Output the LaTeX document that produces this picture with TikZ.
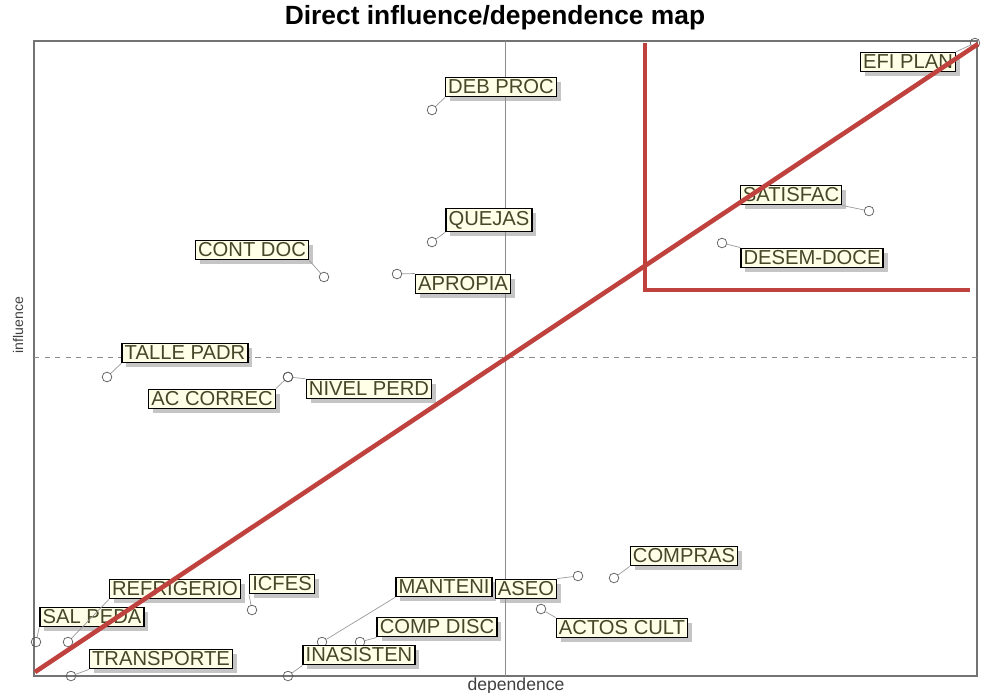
\documentclass[tikz,border=0pt]{standalone}
\usepackage{fontspec}
\setmainfont{Liberation Sans}
\usetikzlibrary{shadows}
\definecolor{mapred}{RGB}{192,66,62}
\definecolor{labfill}{RGB}{255,255,232}
\definecolor{labtext}{RGB}{70,70,40}

\begin{document}
\begin{tikzpicture}
  [x=0.02cm,y=-0.02cm,
   pt/.style={circle, draw=black!65, thin, inner sep=0pt, minimum size=5.5pt},
   lab/.style={rectangle, draw=black, thick, fill=labfill, text=labtext,
     font=\fontsize{11.5}{13}\selectfont, inner sep=1.5pt,
     drop shadow={shadow xshift=2.5pt, shadow yshift=-2.5pt, fill=black!45}},
   lead/.style={draw=black!40, thin},
   redline/.style={draw=mapred, line width=2.6pt}]
  \useasboundingbox (0,0) rectangle (984,693);

  % frame and axes
  \draw[black!55, line width=1.1pt] (34,41) rectangle (977,676);
  \draw[black!45, thin] (505,41) -- (505,676);
  \draw[black!45, thin, dashed] (34,357) -- (977,357);
  \node[font=\bfseries\fontsize{15}{17}\selectfont] (title) at (495,18) {Direct influence/dependence map};
  \node[font=\fontsize{8}{9}\selectfont, rotate=90, text=black!75] (infl) at (18,325) {influence};
  \node[font=\fontsize{10}{11}\selectfont, text=black!75] (dep) at (516,686) {dependence};

  % points
  \node[pt] (efi) at (975,43) {};
  \node[pt] (dp) at (432,110) {};
  \node[pt] (qj) at (432,242) {};
  \node[pt] (cd) at (324,277) {};
  \node[pt] (ap) at (397,274) {};
  \node[pt] (sat) at (869,211) {};
  \node[pt] (des) at (722,243) {};
  \node[pt] (tp) at (107,377) {};
  \node[pt] (np) at (288,377) {};
  \node[pt] (ac) at (288,377) {};
  \node[pt] (comp) at (614,578) {};
  \node[pt] (as) at (578,576) {};
  \node[pt] (act) at (541,609) {};
  \node[pt] (man) at (322,642) {};
  \node[pt] (cdi) at (360,642) {};
  \node[pt] (ina) at (288,676) {};
  \node[pt] (icf) at (252,610) {};
  \node[pt] (ref) at (68,642) {};
  \node[pt] (sal) at (36,642) {};
  \node[pt] (tra) at (71,676) {};

  % labels
  \node[lab] (efiL) at (908,62) {EFI PLAN};
  \node[lab] (dpL) at (501,87) {DEB PROC};
  \node[lab] (qjL) at (489,220) {QUEJAS};
  \node[lab] (cdL) at (252,250) {CONT DOC};
  \node[lab] (apL) at (463,284) {APROPIA};
  \node[lab] (satL) at (791,195) {SATISFAC};
  \node[lab] (desL) at (812,258) {DESEM-DOCE};
  \node[lab] (tpL) at (185,353) {TALLE PADR};
  \node[lab] (npL) at (369,389) {NIVEL PERD};
  \node[lab] (acL) at (212,399) {AC CORREC};
  \node[lab] (compL) at (684,556) {COMPRAS};
  \node[lab] (actL) at (622,628) {ACTOS CULT};
  \node[lab] (manL) at (444,587) {MANTENI};
  \node[lab] (asL) at (526,589) {ASEO};
  \node[lab] (cdiL) at (437,627) {COMP DISC};
  \node[lab] (inaL) at (359,655) {INASISTEN};
  \node[lab] (icfL) at (282,584) {ICFES};
  \node[lab] (refL) at (175,589) {REFRIGERIO};
  \node[lab] (salL) at (92,617) {SAL PEDA};
  \node[lab] (traL) at (161,659) {TRANSPORTE};

  % leader lines
  \foreach \p / \q in {efi/efiL.north east, dp/dpL.south west, qj/qjL.south west,
      cd/cdL.south east, ap/apL.north west, sat/satL.south east, des/desL.north west,
      tp/tpL.south west, np/npL.north west, ac/acL.north east, comp/compL.south west,
      as/asL.north east, act/actL.north west, man/manL.south west, cdi/cdiL.south west,
      ina/inaL.south west, icf/icfL.south west, ref/refL.south west,
      sal/salL.south west, tra/traL.south west}
    \draw[lead] (\p) -- (\q);

  % red overlay
  \coordinate (r1) at (35,672);
  \coordinate (r2) at (978,44);
  \coordinate (r3) at (645,43);
  \coordinate (r4) at (645,290);
  \coordinate (r5) at (970,290);
  \draw[redline] (r1) -- (r2);
  \draw[redline] (r3) -- (r4) -- (r5);

\end{tikzpicture}
\end{document}
